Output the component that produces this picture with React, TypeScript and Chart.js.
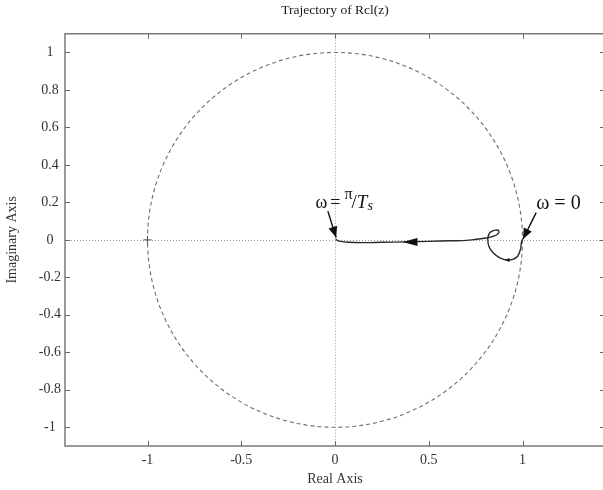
import React, { useEffect, useRef } from "react";
import { Chart, registerables } from "chart.js";

Chart.register(...registerables);

// ---- data ----
const titleText = "Trajectory of Rcl(z)";
const xAxisLabel = "Real Axis";
const yAxisLabel = "Imaginary Axis";

const xTickValues = [-1, -0.5, 0, 0.5, 1];
const xTickLabels = ["-1", "-0.5", "0", "0.5", "1"];
const yTickValues = [-1, -0.8, -0.6, -0.4, -0.2, 0, 0.2, 0.4, 0.6, 0.8, 1];
const yTickLabels = ["-1", "-0.8", "-0.6", "-0.4", "-0.2", "0", "0.2", "0.4", "0.6", "0.8", "1"];

const xRange = [-1.44, 1.44];
const yRange = [-1.1, 1.1];

// closed-loop trajectory (real / imaginary parts), from omega = 0 to omega = pi/Ts
const trajRe = [1.0, 0.995, 0.989, 0.975, 0.948, 0.913, 0.877, 0.842, 0.82, 0.815, 0.82, 0.833, 0.856, 0.874, 0.865, 0.838, 0.806, 0.753, 0.7, 0.62, 0.5, 0.38, 0.25, 0.15, 0.07, 0.03, 0.012, 0.003];
const trajIm = [0.002, -0.01, -0.051, -0.086, -0.104, -0.107, -0.095, -0.068, -0.033, 0.003, 0.029, 0.044, 0.052, 0.047, 0.029, 0.017, 0.01, 0.003, -0.003, -0.005, -0.008, -0.011, -0.013, -0.015, -0.013, -0.008, -0.002, 0.003];

// unit circle and critical point
const circleCenter = [0, 0];
const circleRadius = 1;
const criticalRe = [-1];
const criticalIm = [0];

// direction arrowheads on the trajectory (tip position)
const dirArrowRe = [0.36, 0.904];
const dirArrowIm = [-0.011, -0.107];

// annotation arrows: tail -> tip
const annArrowTailRe = [-0.038, 1.073];
const annArrowTailIm = [0.153, 0.145];
const annArrowTipRe = [0.006, 1.002];
const annArrowTipIm = [0.012, 0.003];

// annotation text anchors (left, baseline)
const annTextRe = [-0.104, 1.073];
const annTextIm = [0.168, 0.162];

const SERIF = '"Liberation Serif", "Times New Roman", serif';

const overlayPlugin = {
  id: "overlay",
  beforeDatasetsDraw(chart: any) {
    const { ctx, chartArea: a, scales } = chart;
    const x = scales.x;
    const y = scales.y;
    ctx.save();
    ctx.beginPath();
    ctx.rect(a.left, a.top, a.right - a.left, a.bottom - a.top);
    ctx.clip();
    // zero lines (dotted)
    ctx.strokeStyle = "#9a9a9a";
    ctx.lineWidth = 1;
    ctx.setLineDash([1, 2]);
    const x0 = Math.round(x.getPixelForValue(0)) + 0.5;
    const y0 = Math.round(y.getPixelForValue(0)) + 0.5;
    ctx.beginPath();
    ctx.moveTo(x0, a.top);
    ctx.lineTo(x0, a.bottom);
    ctx.moveTo(a.left, y0);
    ctx.lineTo(a.right, y0);
    ctx.stroke();
    // unit circle (dashed)
    const cx = x.getPixelForValue(circleCenter[0]);
    const cy = y.getPixelForValue(circleCenter[1]);
    const rx = Math.abs(x.getPixelForValue(circleCenter[0] + circleRadius) - cx);
    const ry = Math.abs(y.getPixelForValue(circleCenter[1] + circleRadius) - cy);
    ctx.setLineDash([4, 3]);
    ctx.strokeStyle = "#6e6e6e";
    ctx.lineWidth = 1.1;
    ctx.beginPath();
    ctx.ellipse(cx, cy, rx, ry, 0, 0, Math.PI * 2);
    ctx.stroke();
    ctx.restore();
  },
  afterDraw(chart: any) {
    const { ctx, chartArea: a, scales } = chart;
    const x = scales.x;
    const y = scales.y;
    ctx.save();
    // frame (left, top, bottom; right edge lies just outside the window)
    ctx.setLineDash([]);
    ctx.strokeStyle = "#7a7a7a";
    ctx.lineWidth = 1.5;
    ctx.beginPath();
    ctx.moveTo(a.right, a.top);
    ctx.lineTo(a.left, a.top);
    ctx.lineTo(a.left, a.bottom);
    ctx.lineTo(a.right, a.bottom);
    ctx.stroke();
    // inward ticks
    const tl = 5;
    ctx.lineWidth = 1;
    ctx.strokeStyle = "#666";
    ctx.beginPath();
    xTickValues.forEach((v) => {
      const px = Math.round(x.getPixelForValue(v)) + 0.5;
      ctx.moveTo(px, a.bottom);
      ctx.lineTo(px, a.bottom - tl);
      ctx.moveTo(px, a.top);
      ctx.lineTo(px, a.top + tl);
    });
    yTickValues.forEach((v) => {
      const py = Math.round(y.getPixelForValue(v)) + 0.5;
      ctx.moveTo(a.left, py);
      ctx.lineTo(a.left + tl, py);
      ctx.moveTo(a.right, py);
      ctx.lineTo(a.right - tl, py);
    });
    ctx.stroke();

    const head = (tx: number, ty: number, fx: number, fy: number, len: number, hw: number) => {
      const dx = tx - fx;
      const dy = ty - fy;
      const d = Math.hypot(dx, dy) || 1;
      const ux = dx / d;
      const uy = dy / d;
      ctx.beginPath();
      ctx.moveTo(tx, ty);
      ctx.lineTo(tx - ux * len - uy * hw, ty - uy * len + ux * hw);
      ctx.lineTo(tx - ux * len + uy * hw, ty - uy * len - ux * hw);
      ctx.closePath();
      ctx.fill();
    };

    ctx.fillStyle = "#111";
    // direction arrowheads on the trajectory
    const dirSizes = [[15, 4], [5, 2]];
    dirArrowRe.forEach((re, i) => {
      const tx = x.getPixelForValue(re);
      const ty = y.getPixelForValue(dirArrowIm[i]);
      head(tx, ty, tx + 10, ty, dirSizes[i][0], dirSizes[i][1]);
    });
    // annotation arrowheads
    annArrowTipRe.forEach((re, i) => {
      const tx = x.getPixelForValue(re);
      const ty = y.getPixelForValue(annArrowTipIm[i]);
      const fx = x.getPixelForValue(annArrowTailRe[i]);
      const fy = y.getPixelForValue(annArrowTailIm[i]);
      head(tx, ty, fx, fy, 11, 4.5);
    });

    // annotation texts
    ctx.fillStyle = "#111";
    ctx.textBaseline = "alphabetic";
    ctx.textAlign = "left";
    // omega = pi / T_s
    {
      let px = x.getPixelForValue(annTextRe[0]);
      const by = y.getPixelForValue(annTextIm[0]);
      const parts: [string, string, number, number][] = [
        ["\u03c9", "18px " + SERIF, 0, 3],
        ["=", "18px " + SERIF, 0, 4],
        ["\u03c0", "16px " + SERIF, -9, -1],
        ["/", "19px " + SERIF, 0, 0],
        ["T", "italic 19px " + SERIF, 0, 0],
        ["s", "italic 14px " + SERIF, 2, 0],
      ];
      parts.forEach(([t, f, dy, gap]) => {
        ctx.font = f;
        const w = ctx.measureText(t).width;
        ctx.fillText(t, px, by + dy);
        px += w + gap;
      });
    }
    // omega = 0
    {
      const px = x.getPixelForValue(annTextRe[1]);
      const by = y.getPixelForValue(annTextIm[1]);
      ctx.font = "20px " + SERIF;
      ctx.fillText("\u03c9 = 0", px, by);
    }
    ctx.restore();
  },
};

export default function App() {
  const ref = useRef<HTMLCanvasElement | null>(null);

  useEffect(() => {
    if (!ref.current) return;
    const trajectory = trajRe.map((re, i) => ({ x: re, y: trajIm[i] }));
    const critical = criticalRe.map((re, i) => ({ x: re, y: criticalIm[i] }));
    const arrowSets = annArrowTailRe.map((re, i) => ({
      type: "line" as const,
      data: [
        { x: re, y: annArrowTailIm[i] },
        { x: annArrowTipRe[i], y: annArrowTipIm[i] },
      ],
      borderColor: "#111",
      borderWidth: 1.4,
      pointRadius: 0,
      showLine: true,
      fill: false,
    }));

    const chart = new Chart(ref.current, {
      type: "scatter",
      data: {
        datasets: [
          {
            type: "line",
            data: trajectory,
            borderColor: "#2a2a2a",
            borderWidth: 1.4,
            pointRadius: 0,
            tension: 0.35,
            showLine: true,
            fill: false,
          } as any,
          {
            type: "scatter",
            data: critical,
            pointStyle: "cross",
            pointRadius: 4,
            borderColor: "#555",
            borderWidth: 1,
          } as any,
          ...arrowSets,
        ],
      },
      options: {
        animation: false,
        responsive: false,
        maintainAspectRatio: false,
        layout: { padding: { left: 0, right: 15, top: 0, bottom: 0 } },
        plugins: {
          legend: { display: false },
          tooltip: { enabled: false },
          title: {
            display: true,
            fullSize: false,
            text: titleText,
            color: "#1a1a1a",
            font: { family: SERIF, size: 13.5, weight: "normal" },
            padding: { top: 2, bottom: 15.5 },
          },
        },
        scales: {
          x: {
            type: "linear",
            min: xRange[0],
            max: xRange[1],
            afterBuildTicks: (s: any) => {
              s.ticks = xTickValues.map((v) => ({ value: v }));
            },
            afterFit: (s: any) => {
              s.height = 44;
            },
            ticks: {
              callback: (_v: any, i: number) => xTickLabels[i],
              color: "#333",
              font: { family: SERIF, size: 14 },
              padding: 6,
              maxRotation: 0,
            },
            grid: { display: false, drawTicks: false },
            border: { display: false },
            title: {
              display: true,
              text: xAxisLabel,
              color: "#333",
              font: { family: SERIF, size: 14 },
              padding: { top: 0, bottom: 2 },
            },
          },
          y: {
            type: "linear",
            min: yRange[0],
            max: yRange[1],
            afterBuildTicks: (s: any) => {
              s.ticks = yTickValues.map((v) => ({ value: v }));
            },
            afterFit: (s: any) => {
              s.width = 65;
            },
            ticks: {
              callback: (_v: any, i: number) => yTickLabels[i],
              color: "#333",
              font: { family: SERIF, size: 14 },
              padding: 4,
              crossAlign: "center",
            },
            grid: { display: false, drawTicks: false },
            border: { display: false },
            title: {
              display: true,
              text: yAxisLabel,
              color: "#333",
              font: { family: SERIF, size: 14 },
              padding: { top: 4, bottom: 0 },
            },
          },
        },
      } as any,
      plugins: [overlayPlugin],
    });
    return () => chart.destroy();
  }, []);

  return (
    <div
      style={{
        position: "fixed",
        left: 0,
        top: 0,
        width: 603,
        height: 490,
        overflow: "hidden",
        background: "#fff",
      }}
    >
      <canvas ref={ref} width={620} height={490} style={{ display: "block" }} />
    </div>
  );
}
